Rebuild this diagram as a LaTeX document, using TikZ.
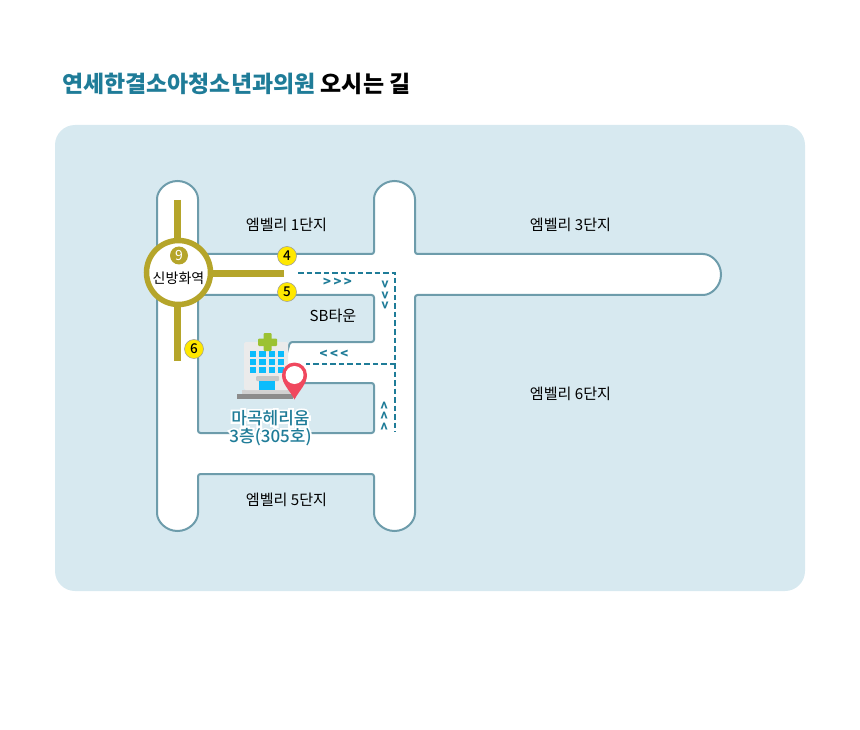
\documentclass[tikz,border=0pt]{standalone}
\usepackage{fontspec}
\setmainfont{Noto Sans CJK KR}
\newfontfamily\mediumfont{Noto Sans CJK KR Medium}
\usetikzlibrary{positioning}
\definecolor{panelblue}{HTML}{D7E9F0}
\definecolor{roadline}{HTML}{6D9CAB}
\definecolor{routeteal}{HTML}{1F7C98}
\definecolor{subwayline}{HTML}{B5A52A}
\definecolor{badgeyellow}{HTML}{FFE800}
\definecolor{wincyan}{HTML}{0CBCFC}
\definecolor{crossgreen}{HTML}{9CC232}
\definecolor{pinred}{HTML}{F0485E}
\newcommand{\halotext}[1]{\leavevmode\rlap{\special{pdf:code q 2 Tr 4 w 1 1 1 RG 1 1 1 rg}#1\special{pdf:code Q}}#1}
\tikzset{
  area/.style={font=\fontsize{15.1}{18}\selectfont, text=black, inner sep=0pt},
  badge/.style={circle, draw=black!40, line width=0.5pt, fill=badgeyellow, minimum size=19pt, inner sep=0pt, font=\fontsize{13.5}{14}\selectfont\mediumfont},
  subway/.style={subwayline, line width=7pt},
  route/.style={routeteal, line width=1.2pt, dash pattern=on 5.5pt off 3pt},
  chevron/.style={text=routeteal, inner sep=0pt, font=\fontsize{13}{13}\selectfont\bfseries}
}
\begin{document}
\begin{tikzpicture}[x=1pt, y=-1pt]
\useasboundingbox (0,0) rectangle (860,730);
\fill[panelblue, rounded corners=20pt] (55,125) rectangle (805,591);
\node (title) [anchor=base west, inner sep=0pt, font=\fontsize{22.95}{26}\selectfont\bfseries] at (62,93) {\textcolor{routeteal}{연세한결소아청소년과의원} 오시는 길};
\draw[roadline, line width=2pt, fill=white, even odd rule, rounded corners=2.5pt]
  (157,201.5) arc[start angle=180, end angle=360, radius=20.5] -- (198,254) -- (374,254) -- (374,201.5)
  arc[start angle=180, end angle=360, radius=20.5] -- (415,254) -- (700.5,254)
  arc[start angle=270, end angle=450, radius=20.5] -- (415,295) -- (415,510.5)
  arc[start angle=0, end angle=180, radius=20.5] -- (374,474) -- (198,474) -- (198,510.5)
  arc[start angle=0, end angle=180, radius=20.5] -- cycle
  (198,295) -- (374,295) -- (374,342) -- (290,342) -- (285,360) -- (290,383) -- (374,383) -- (374,433) -- (198,433) -- cycle;
\node (area1) [area] at (286.5,225) {엠벨리 1단지};
\node (area3) [area] at (570.5,225) {엠벨리 3단지};
\node (area6) [area] at (570.5,394) {엠벨리 6단지};
\node (area5) [area] at (286.5,500) {엠벨리 5단지};
\node (sbtown) [area] at (333,316) {SB타운};
\coordinate (routestart) at (298,273);
\coordinate (routecorner) at (395,273);
\coordinate (routeend) at (395,432);
\coordinate (clinicdoor) at (306,364);
\draw[route] (routestart) -- (routecorner) -- (routeend);
\draw[route] (routecorner |- clinicdoor) -- (clinicdoor);
\node (goeast) [chevron] at (337.5,282.5) {>\hspace{2.5pt}>\hspace{2.5pt}>};
\node (gowest) [chevron] at (334,354) {<\hspace{2.5pt}<\hspace{2.5pt}<};
\node (gosouth) [chevron, rotate=-90] at (385,295) {>\hspace{2.5pt}>\hspace{2.5pt}>};
\node (gonorth) [chevron, rotate=90] at (385,416) {>\hspace{2.5pt}>\hspace{2.5pt}>};
\coordinate (stationcentre) at (178.5,272.5);
\coordinate (linetop) at (177,200);
\coordinate (linebottom) at (177,361);
\coordinate (lineeast) at (284,273.5);
\draw[subway] (linetop) -- (linetop |- stationcentre);
\draw[subway] (linebottom) -- (linebottom |- stationcentre);
\draw[subway] (lineeast) -- (lineeast -| stationcentre);
\node (station) [circle, draw=subwayline, line width=5.5pt, fill=white, minimum size=64pt, inner sep=0pt] at (stationcentre) {};
\node (linenine) [circle, fill=subwayline, minimum size=18pt, inner sep=0pt, text=white, font=\fontsize{14}{14}\selectfont] at (179,255.5) {9};
\node (stationname) [area, font=\fontsize{14}{16}\selectfont] at (178.5,278.5) {신방화역};
\node (exit4) [badge] at (287,256) {4};
\node (exit5) [badge] at (287,292) {5};
\node (exit6) [badge] at (194,349) {6};
\fill[black!45] (237,394) rectangle (293,399);
\fill[black!18] (242,390) rectangle (290,394);
\fill[black!8, rounded corners=1.5pt] (244,342) rectangle (288,390);
\foreach \col in {0,1,2,3}
  \foreach \row in {0,1,2}
    \fill[wincyan] (250+9.3*\col,351+8*\row) rectangle +(6.3,5.6);
\fill[black!22, rounded corners=1pt] (256,376) rectangle (279,381);
\fill[wincyan] (259,381) rectangle (275,390);
\fill[crossgreen, rounded corners=1pt] (258,338.5) rectangle (277,346);
\fill[crossgreen, rounded corners=1pt] (263.5,333) rectangle (271.5,351);
\fill[pinred] (294.5,399.5) .. controls (289.5,390) and (282,384) .. (282,375) arc[start angle=180, end angle=360, radius=12.5] .. controls (307,384) and (299.5,390) .. (294.5,399.5) -- cycle;
\fill[white] (294.5,375) circle[radius=9];
\node (clinic) [inner sep=0pt, text=routeteal, font=\fontsize{17}{18}\selectfont\mediumfont, align=center] at (270.5,428) {\halotext{마곡헤리움}\\\halotext{3층(305호)}};
\end{tikzpicture}
\end{document}
